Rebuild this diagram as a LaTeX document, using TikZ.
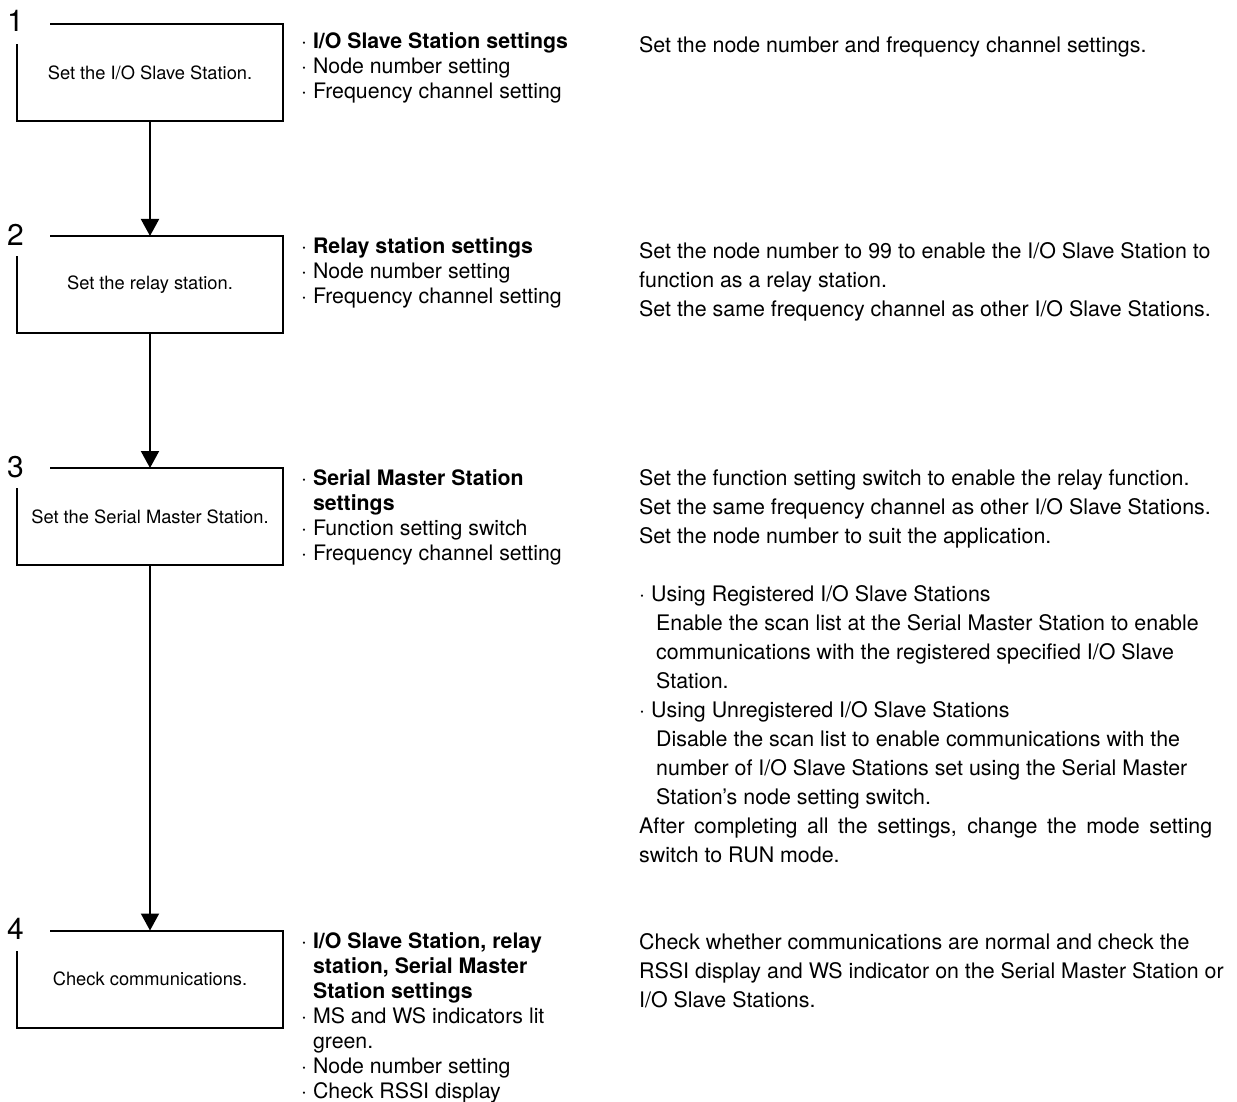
\documentclass[tikz,border=0pt]{standalone}
\usepackage{fontspec}
\setmainfont{TeX Gyre Heros}
\usetikzlibrary{arrows.meta, positioning}

\begin{document}
\begin{tikzpicture}[x=1pt, y=-1pt,
  stepbox/.style={rectangle, minimum width=266pt, minimum height=97pt,
                  inner sep=0pt, outer sep=0pt, align=center,
                  font=\fontsize{18.3}{22}\selectfont},
  stepnum/.style={anchor=base west, inner sep=0pt, font=\fontsize{30}{30}\selectfont},
  items/.style={anchor=north west, inner sep=0pt, align=left,
                font=\fontsize{21.3}{25}\selectfont},
  desc/.style={anchor=north west, inner sep=0pt, align=left,
               font=\fontsize{21.4}{29}\selectfont},
  outline/.style={line width=2pt},
  flow/.style={line width=2pt, -{Triangle[length=17pt, width=18pt]}}
]
\useasboundingbox (0,0) rectangle (1237,1102);

%% Steps
\node[stepbox] (s1) at (150,73)    {Set the I/O Slave Station.};
\node[stepbox] (s2) at (150,284.5) {Set the relay station.};
\node[stepbox] (s3) at (150,516.5) {Set the Serial Master Station.};
\node[stepbox] (s4) at (150,979)   {Check communications.};

%% Step numbers
\node[stepnum] (n1) at (7,32)  {1};
\node[stepnum] (n2) at (7,245) {2};
\node[stepnum] (n3) at (7,477) {3};
\node[stepnum] (n4) at (7,939) {4};

%% Open frames
\foreach \i in {1,...,4}
  \draw[outline] ([xshift=33pt]s\i.north west) -- (s\i.north east)
    -- (s\i.south east) -- (s\i.south west) -- ([yshift=-20pt]s\i.north west);

%% Arrows
\draw[flow] (s1) -- (s2);
\draw[flow] (s2) -- (s3);
\draw[flow] (s3) -- (s4);

%% Settings
\node[items] (set1) at (301,32) {· \textbf{I/O Slave Station settings}\\
  · Node number setting\\
  · Frequency channel setting};
\node[items] (set2) at (301,237) {· \textbf{Relay station settings}\\
  · Node number setting\\
  · Frequency channel setting};
\node[items] (set3) at (301,469) {· \textbf{Serial Master Station}\\
  \phantom{· }\textbf{settings}\\
  · Function setting switch\\
  · Frequency channel setting};
\node[items] (set4) at (301,932) {· \textbf{I/O Slave Station, relay}\\
  \phantom{· }\textbf{station, Serial Master}\\
  \phantom{· }\textbf{Station settings}\\
  · MS and WS indicators lit\\
  \phantom{· }green.\\
  · Node number setting\\
  · Check RSSI display};

%% Descriptions
\node[desc] (d1) at (639,36) {Set the node number and frequency channel settings.};
\node[desc] (d2) at (639,242) {Set the node number to 99 to enable the I/O Slave Station to\\
  function as a relay station.\\
  Set the same frequency channel as other I/O Slave Stations.};
\node[desc] (d3) at (639,469) {Set the function setting switch to enable the relay function.\\
  Set the same frequency channel as other I/O Slave Stations.\\
  Set the node number to suit the application.\\[29pt]
  · Using Registered I/O Slave Stations\\
  \hspace*{17pt}Enable the scan list at the Serial Master Station to enable\\
  \hspace*{17pt}communications with the registered specified I/O Slave\\
  \hspace*{17pt}Station.\\
  · Using Unregistered I/O Slave Stations\\
  \hspace*{17pt}Disable the scan list to enable communications with the\\
  \hspace*{17pt}number of I/O Slave Stations set using the Serial Master\\
  \hspace*{17pt}Station's node setting switch.\\
  \makebox[573pt][s]{After completing all the settings, change the mode setting}\\
  switch to RUN mode.};
\node[desc] (d4) at (639,933) {Check whether communications are normal and check the\\
  RSSI display and WS indicator on the Serial Master Station or\\
  I/O Slave Stations.};
\end{tikzpicture}
\end{document}
